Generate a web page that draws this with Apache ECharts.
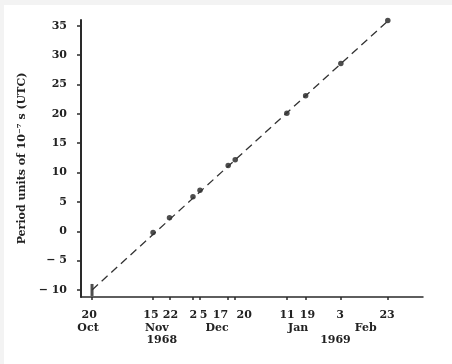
<!DOCTYPE html>
<html>
<head>
<meta charset="utf-8">
<script src="https://cdn.jsdelivr.net/npm/echarts@6/dist/echarts.min.js"></script>
<style>
html, body { margin: 0; padding: 0; background: #f3f3f3; }
#chart { position: absolute; left: 4px; top: 5px; width: 448px; height: 359px; background: #fff; }
</style>
</head>
<body>
<div id="chart"></div>
<script>
// days counted from 20 Oct 1968
var tickDays = [0, 26, 33, 43, 46, 58, 61, 83, 91, 106, 126];
var tickLabels = ['20', '15', '22', '2', '5', '17', '20', '11', '19', '3', '23'];
// label anchors (the printed labels are nudged apart where ticks crowd)
var labelPos = [-1.2, 25.1, 33.4, 43.2, 47.5, 54.7, 64.8, 83.1, 91.8, 105.7, 125.7];
var monthPos = [-1.7, 27.6, 53.3, 87.8, 116.6];
var monthNames = ['Oct', 'Nov', 'Dec', 'Jan', 'Feb'];
var yearPos = [29.7, 103.7];
var yearNames = ['1968', '1969'];
var yTicks = [-10, -5, 0, 5, 10, 15, 20, 25, 30, 35];

var measDays = [0, 26, 33, 43, 46, 58, 61, 83, 91, 106, 126];
var measVals = [-10, -0.2, 2.3, 5.9, 7.0, 11.2, 12.2, 20.1, 23.1, 28.6, 35.9];
var fitDays = [0, 126.5];
var fitVals = [-10, 36];

var font = 'DejaVu Serif';
var ink = '#2a2a2a';

var chart = echarts.init(document.getElementById('chart'));

var pts = [];
for (var i = 0; i < measDays.length; i++) {
    var p = { value: [measDays[i], measVals[i]] };
    if (i == 0) {
        p.symbol = 'rect';
        p.symbolSize = [3, 12];
    }
    pts.push(p);
}
var fit = [];
for (var j = 0; j < fitDays.length; j++) fit.push([fitDays[j], fitVals[j]]);

function lookup(vals, names) {
    return function (v) {
        for (var k = 0; k < vals.length; k++) {
            if (Math.abs(vals[k] - v) < 1e-6) return names[k];
        }
        return '';
    };
}

function xa(vals, names, margin) {
    return {
        type: 'value',
        position: 'bottom',
        offset: 0,
        min: -4.7,
        max: 141,
        axisLine: { show: false },
        axisTick: { show: false },
        splitLine: { show: false },
        axisLabel: {
            customValues: vals,
            formatter: lookup(vals, names),
            margin: margin,
            color: '#222',
            fontFamily: font,
            fontWeight: 'bold',
            fontSize: 11,
            hideOverlap: false
        }
    };
}

var option = {
    animation: false,
    grid: { left: 77, top: 15, right: 29, bottom: 67 },
    xAxis: [
        {
            type: 'value',
            position: 'bottom',
            min: -4.7,
            max: 141,
            axisLine: { show: true, onZero: false, lineStyle: { color: ink, width: 1.5 } },
            axisTick: { show: true, customValues: tickDays, length: 3, lineStyle: { color: ink, width: 1.5 } },
            splitLine: { show: false },
            axisLabel: { show: false }
        },
        xa(labelPos, tickLabels, 13),
        xa(monthPos, monthNames, 26),
        xa(yearPos, yearNames, 38)
    ],
    yAxis: {
        type: 'value',
        min: -11.2,
        max: 36,
        name: 'Period units of 10\u207B\u2077 s (UTC)',
        nameLocation: 'middle',
        nameGap: 50,
        nameTextStyle: { color: '#222', fontFamily: font, fontWeight: 'bold', fontSize: 11 },
        axisLine: { show: true, onZero: false, lineStyle: { color: ink, width: 2 } },
        axisTick: { show: true, customValues: yTicks, length: 4, lineStyle: { color: ink, width: 1.5 } },
        splitLine: { show: false },
        axisLabel: {
            customValues: yTicks,
            margin: 14,
            color: '#222',
            fontFamily: font,
            fontWeight: 'bold',
            fontSize: 11,
            formatter: function (v) { return v < 0 ? '\u2212 ' + Math.abs(v) : String(v); }
        }
    },
    series: [
        {
            type: 'line',
            data: fit,
            symbol: 'none',
            lineStyle: { color: '#333', width: 1.3, type: [8, 5] },
            silent: true
        },
        {
            type: 'scatter',
            data: pts,
            symbol: 'circle',
            symbolSize: 5.5,
            itemStyle: { color: '#222' }
        }
    ]
};
chart.setOption(option);
</script>
</body>
</html>
